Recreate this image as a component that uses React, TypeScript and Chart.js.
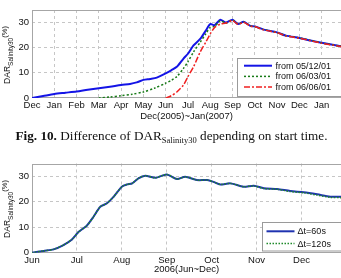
import React, { useEffect, useRef } from "react";
import { Chart, registerables } from "chart.js";

Chart.register(...registerables);

// ---------- Top chart data (x = months since 1 Dec 2005) ----------
const topMonthLabels = ["Dec", "Jan", "Feb", "Mar", "Apr", "May", "Jun", "Jul", "Aug", "Sep", "Oct", "Nov", "Dec", "Jan"];
const topXMax = 13.87;
const topXTitle = "Dec(2005)~Jan(2007)";

const from0512X = [0, 0.5, 1, 1.5, 2, 2.5, 3, 3.5, 4, 4.4, 4.7, 5, 5.3, 5.6, 6, 6.25, 6.5, 6.8, 7, 7.25, 7.55, 7.8, 8.0, 8.2, 8.45, 8.7, 9.0, 9.25, 9.5, 9.8, 10, 10.4, 11, 11.4, 12, 12.5, 13, 13.87];
const from0512Y = [0, 0.8, 1.6, 2.1, 2.6, 3.3, 3.9, 4.5, 5.2, 5.6, 6.2, 7.2, 7.6, 8.1, 9.8, 11.0, 12.4, 15.7, 17.6, 20.9, 23.5, 26.8, 29.4, 29.0, 31.1, 30.0, 31.1, 29.4, 30.3, 28.7, 28.5, 27.2, 26.1, 24.8, 23.9, 22.9, 22.0, 20.6];

const from0603X = [3, 3.5, 4, 4.5, 5, 5.5, 6, 6.25, 6.5, 6.8, 7, 7.25, 7.55, 7.8, 8.0, 8.2, 8.45, 8.7, 9.0, 9.25, 9.5, 9.8, 10, 10.4, 11, 11.4, 12, 12.5, 13, 13.87];
const from0603Y = [0, 0.4, 0.9, 1.5, 2.4, 3.9, 5.9, 7.0, 8.5, 11.8, 14.4, 18.3, 22.2, 25.5, 28.1, 28.5, 30.7, 29.8, 31.0, 29.4, 30.2, 28.7, 28.4, 27.2, 26.0, 24.8, 23.9, 22.9, 21.9, 20.6];

const from0606X = [6, 6.25, 6.5, 6.8, 7, 7.25, 7.55, 7.8, 8.0, 8.2, 8.45, 8.7, 9.0, 9.25, 9.5, 9.8, 10, 10.4, 11, 11.4, 12, 12.5, 13, 13.87];
const from0606Y = [0, 0.9, 2.4, 5.2, 8.5, 12.4, 18.3, 22.2, 25.5, 28.1, 29.4, 29.8, 30.8, 29.3, 30.1, 28.6, 28.4, 27.1, 26.0, 24.7, 23.8, 22.8, 21.8, 20.5];

// ---------- Bottom chart data (x = months since 1 Jun 2006) ----------
const botMonthLabels = ["Jun", "Jul", "Aug", "Sep", "Oct", "Nov", "Dec"];
const botXMax = 6.88;
const botXTitle = "2006(Jun~Dec)";

const dtX = [0, 0.26, 0.48, 0.7, 0.89, 1.04, 1.22, 1.37, 1.52, 1.67, 1.82, 2.0, 2.12, 2.23, 2.37, 2.52, 2.75, 3.0, 3.23, 3.41, 3.67, 3.9, 4.04, 4.19, 4.42, 4.71, 4.94, 5.16, 5.46, 5.75, 6.05, 6.35, 6.64, 6.88];
const dt60Y = [0, 0.7, 1.3, 3.0, 5.2, 8.2, 10.6, 14.1, 18.0, 19.4, 22.0, 25.9, 26.8, 27.2, 29.2, 30.2, 29.4, 30.7, 28.9, 29.8, 28.5, 28.5, 27.8, 26.8, 27.2, 25.9, 26.3, 25.3, 25.0, 24.2, 23.7, 22.9, 22.0, 22.0];
const dt120Y = [0, 0.7, 1.3, 3.0, 5.2, 8.2, 10.6, 14.1, 18.0, 19.4, 22.0, 25.9, 26.8, 27.2, 29.2, 30.2, 29.4, 30.7, 28.9, 29.8, 28.5, 28.5, 27.8, 26.8, 27.2, 25.9, 26.2, 25.2, 24.9, 24.0, 23.5, 22.6, 21.7, 21.6];

const yTicks = [0, 10, 20, 30];
const yMax = 35;

const SANS = '"Liberation Sans", Arial, Helvetica, sans-serif';
const SERIF = '"Liberation Serif", "Times New Roman", Times, serif';
const TEXT = "#111111";

const pts = (xs: number[], ys: number[]) => xs.map((x, i) => ({ x, y: ys[i] }));

const framePlugin = {
  id: "frame",
  beforeDatasetsDraw(chart: any) {
    const { ctx, chartArea: a } = chart;
    ctx.save();
    ctx.strokeStyle = "#a6a6a6";
    ctx.lineWidth = 1;
    ctx.strokeRect(Math.round(a.left) + 0.5, Math.round(a.top) + 0.5, Math.round(a.right - a.left) + 2, Math.round(a.bottom - a.top) - 1);
    ctx.restore();
  },
};

const legendPlugin = {
  id: "insideLegend",
  afterDatasetsDraw(chart: any, _args: any, opts: any) {
    const { ctx, chartArea: a } = chart;
    const left = Math.round(a.right - opts.fromRight);
    const top = Math.round(a.bottom - opts.fromBottom);
    ctx.save();
    ctx.fillStyle = "#ffffff";
    ctx.fillRect(left, top, opts.width, opts.height);
    ctx.strokeStyle = "#9a9a9a";
    ctx.lineWidth = 1;
    ctx.strokeRect(left + 0.5, top + 0.5, opts.width, opts.height);
    (opts.order as number[]).forEach((di, i) => {
      const ds: any = chart.data.datasets[di];
      const y = top + opts.rowY[i];
      ctx.strokeStyle = ds.borderColor;
      ctx.lineWidth = ds.borderWidth;
      ctx.setLineDash(ds.borderDash || []);
      ctx.beginPath();
      ctx.moveTo(left + opts.sx0, y);
      ctx.lineTo(left + opts.sx1, y);
      ctx.stroke();
      ctx.setLineDash([]);
      ctx.fillStyle = TEXT;
      ctx.font = opts.font;
      ctx.textBaseline = "middle";
      ctx.textAlign = "left";
      ctx.fillText(ds.label, left + opts.tx, y + 0.5);
    });
    ctx.restore();
  },
};

function makeScales(labels: string[], xMax: number, xTitle: string, xHeight: number, titlePadBottom: number) {
  return {
    x: {
      type: "linear",
      min: 0,
      max: xMax,
      afterBuildTicks: (s: any) => {
        s.ticks = labels.map((_, i) => ({ value: i }));
      },
      afterFit: (s: any) => {
        s.height = xHeight;
      },
      ticks: {
        autoSkip: false,
        maxRotation: 0,
        padding: 2,
        color: TEXT,
        font: { size: 9.5, family: SANS },
        callback: (v: any) => labels[v] ?? "",
      },
      grid: {
        color: (c: any) => (c.tick && c.tick.value === 0 ? "rgba(0,0,0,0)" : "#c6c6c6"),
        drawTicks: false,
        lineWidth: 1,
      },
      border: { display: false, dash: [3, 3] },
      title: {
        display: true,
        text: xTitle,
        color: TEXT,
        font: { size: 9.5, family: SANS },
        padding: { top: 0, bottom: titlePadBottom },
      },
    },
    y: {
      type: "linear",
      min: 0,
      max: yMax,
      afterBuildTicks: (s: any) => {
        s.ticks = yTicks.map((v) => ({ value: v }));
      },
      afterFit: (s: any) => {
        s.width = 32;
      },
      ticks: {
        padding: 3,
        color: TEXT,
        font: { size: 9.5, family: SANS },
      },
      grid: {
        color: (c: any) => (c.tick && c.tick.value === 0 ? "rgba(0,0,0,0)" : "#c6c6c6"),
        drawTicks: false,
        lineWidth: 1,
      },
      border: { display: false, dash: [3, 3] },
    },
  };
}

function topConfig(): any {
  return {
    type: "line",
    data: {
      datasets: [
        { label: "from 05/12/01", data: pts(from0512X, from0512Y), borderColor: "#1414e6", borderWidth: 2, pointRadius: 0, tension: 0.25, order: 2, fill: false },
        { label: "from 06/03/01", data: pts(from0603X, from0603Y), borderColor: "#177a17", borderWidth: 1.5, borderDash: [2, 2], pointRadius: 0, tension: 0.25, order: 1, fill: false },
        { label: "from 06/06/01", data: pts(from0606X, from0606Y), borderColor: "#f02020", borderWidth: 1.5, borderDash: [6, 2, 2, 2], pointRadius: 0, tension: 0.25, order: 0, fill: false },
      ],
    },
    options: {
      responsive: false,
      maintainAspectRatio: false,
      devicePixelRatio: 1,
      animation: false,
      layout: { padding: { top: 10, left: 0, right: 0, bottom: 0 } },
      scales: makeScales(topMonthLabels, topXMax, topXTitle, 28, 3.5),
      plugins: {
        legend: { display: false },
        tooltip: { enabled: false },
        insideLegend: {
          fromRight: 104, fromBottom: 40, width: 110, height: 38,
          order: [0, 1, 2], rowY: [7.7, 18.4, 29], sx0: 7, sx1: 35, tx: 38.5,
          font: `9px ${SANS}`,
        },
      },
    },
    plugins: [framePlugin, legendPlugin],
  };
}

function botConfig(): any {
  return {
    type: "line",
    data: {
      datasets: [
        { label: "\u0394t=60s", data: pts(dtX, dt60Y), borderColor: "#1f33b0", borderWidth: 2, pointRadius: 0, tension: 0.25, order: 1, fill: false },
        { label: "\u0394t=120s", data: pts(dtX, dt120Y), borderColor: "#1f8a2a", borderWidth: 1.5, borderDash: [1.5, 1.5], pointRadius: 0, tension: 0.25, order: 0, fill: false },
      ],
    },
    options: {
      responsive: false,
      maintainAspectRatio: false,
      devicePixelRatio: 1,
      animation: false,
      layout: { padding: { top: 13.5, left: 0, right: 0, bottom: 0 } },
      scales: makeScales(botMonthLabels, botXMax, botXTitle, 25.3, 2.6),
      plugins: {
        legend: { display: false },
        tooltip: { enabled: false },
        insideLegend: {
          fromRight: 79.3, fromBottom: 31, width: 85, height: 28.5,
          order: [0, 1], rowY: [9.3, 21.6], sx0: 4.5, sx1: 32.5, tx: 35.6,
          font: `9px ${SANS}`,
        },
      },
    },
    plugins: [framePlugin, legendPlugin],
  };
}

function YTitle({ cx, cy }: { cx: number; cy: number }) {
  const w = 90;
  const h = 16;
  return (
    <div
      style={{
        position: "absolute",
        left: cx - w / 2,
        top: cy - h / 2,
        width: w,
        height: h,
        lineHeight: `${h}px`,
        textAlign: "center",
        transform: "rotate(-90deg)",
        fontFamily: SANS,
        fontSize: 8.5,
        color: TEXT,
        whiteSpace: "nowrap",
      }}
    >
      DAR
      <span style={{ fontSize: 6.5, position: "relative", top: 2.5 }}>Salinity30</span>
      <span style={{ fontSize: 7.5, position: "relative", top: -3 }}>(%)</span>
    </div>
  );
}

export default function App() {
  const topRef = useRef<HTMLCanvasElement>(null);
  const botRef = useRef<HTMLCanvasElement>(null);

  useEffect(() => {
    const c1 = new Chart(topRef.current as HTMLCanvasElement, topConfig());
    const c2 = new Chart(botRef.current as HTMLCanvasElement, botConfig());
    return () => {
      c1.destroy();
      c2.destroy();
    };
  }, []);

  return (
    <div style={{ position: "fixed", left: 0, top: 0, width: 341, height: 278, background: "#fff", overflow: "hidden" }}>
      <canvas ref={topRef} width={341} height={126} style={{ position: "absolute", left: 0, top: 0, width: 341, height: 126 }} />
      <canvas ref={botRef} width={341} height={128} style={{ position: "absolute", left: 0, top: 150, width: 341, height: 128 }} />
      <YTitle cx={7} cy={55} />
      <YTitle cx={7} cy={209} />
      <div
        style={{
          position: "absolute",
          left: 1,
          top: 129,
          width: 341,
          textAlign: "center",
          fontFamily: SERIF,
          fontSize: 13.2,
          lineHeight: "14px",
          color: "#111",
          whiteSpace: "nowrap",
        }}
      >
        <b>Fig. 10.</b> Difference of DAR
        <span style={{ fontSize: 8.5, position: "relative", top: 3 }}>Salinity30</span> depending on start time.
      </div>
    </div>
  );
}
